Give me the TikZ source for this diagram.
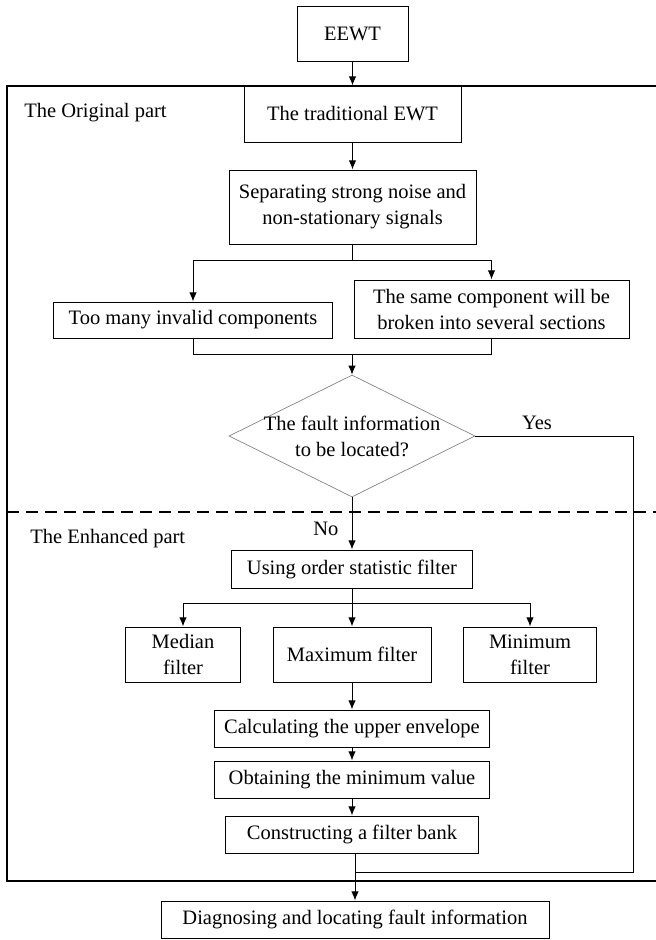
\documentclass[tikz,border=0pt]{standalone}
\usepackage{fontspec}
\setmainfont{Liberation Serif}
\usetikzlibrary{calc,positioning,shapes.geometric,arrows.meta}

\tikzset{
  box/.style={draw, inner sep=1pt, align=center, line width=0.6pt},
  decision/.style={draw=gray, diamond, inner sep=0pt, line width=0.4pt},
  arr/.style={-{Latex[length=5.5pt,width=4.5pt]}, line width=0.6pt},
  link/.style={line width=0.6pt},
  partlabel/.style={anchor=west, inner sep=0pt}
}

\begin{document}
\begin{tikzpicture}[x=0.6pt, y=-0.6pt, font=\fontsize{12.3}{15.6}\selectfont]
 \useasboundingbox (0,0) rectangle (656,940);

    % frame and dashed divider
    \draw[line width=1.2pt] (7,86) rectangle (670,881);
    \draw[line width=1.2pt, dash pattern=on 7.2pt off 4.2pt] (7,512) -- (670,512);
    \node[partlabel] (origlabel) at (24,113) {The Original part};
    \node[partlabel] (enhlabel) at (30,539) {The Enhanced part};

    % original part
    \node[box, minimum width=66.6pt, minimum height=33pt] (eewt) at (352.5,33.5) {EEWT};
    \node[box, minimum width=130.2pt, minimum height=33.6pt] (trad) at (352.5,114) {The traditional EWT};
    \node[box, minimum width=148.2pt, minimum height=44.4pt] (sep) at (352.5,207) {Separating strong noise and\\non-stationary signals};
    \node[box, minimum width=167.1pt, minimum height=21.6pt] (toomany) at (193,320) {Too many invalid components};
    \node[box, minimum width=165pt, minimum height=34.8pt] (same) at (491.5,309) {The same component will be\\broken into several sections};
    \node[decision, minimum width=147.6pt, minimum height=73.2pt] (fault) at (352,436) {};
    \node[align=center, inner sep=0pt] (faulttext) at (fault) {The fault information\\to be located?};

    % enhanced part
    \node[box, minimum width=144.6pt, minimum height=22.8pt] (order) at (352,569) {Using order statistic filter};
    \node[box, minimum width=69.3pt, minimum height=33pt] (median) at (183,654.5) {Median\\filter};
    \node[box, minimum width=94.8pt, minimum height=33pt] (maxf) at (352,654.5) {Maximum filter};
    \node[box, minimum width=79.8pt, minimum height=33pt] (minf) at (530,654.5) {Minimum\\filter};
    \node[box, minimum width=164.7pt, minimum height=22.2pt] (upper) at (352,728.5) {Calculating the upper envelope};
    \node[box, minimum width=164.7pt, minimum height=22.2pt] (minval) at (352,779.5) {Obtaining the minimum value};
    \node[box, minimum width=151.5pt, minimum height=22.2pt] (bank) at (352,834.5) {Constructing a filter bank};
    \node[box, minimum width=232.8pt, minimum height=22.2pt] (diag) at (355,919.5) {Diagnosing and locating fault information};

    \coordinate (split1) at (352.5,260);
    \coordinate (join1) at (352,354);
    \coordinate (split2) at (352,603);
    \coordinate (yescorner) at (633,872);
    \coordinate (merge) at (355,872);

    % connectors
    \draw[arr] (eewt) -- (trad);
    \draw[arr] (trad) -- (sep);
    \draw[link] (sep.south) -- (split1);
    \draw[arr] (split1) -| (toomany.north);
    \draw[arr] (split1) -| (same.north);
    \draw[link] (toomany.south) |- (join1);
    \draw[link] (same.south) |- (join1);
    \draw[arr] (join1) -- (fault.north);
    \draw[arr] (fault.south) -- (order.north) node[pos=0.6, left=4.5pt] {No};
    \draw[link] (fault.east) -| (yescorner) -- (merge);
    \node (yeslabel) at (537,423) {Yes};
    \draw[link] (order.south) -- (split2);
    \draw[arr] (split2) -| (median.north);
    \draw[arr] (split2) -| (minf.north);
    \draw[arr] (split2) -- (maxf.north);
    \draw[arr] (maxf) -- (upper);
    \draw[arr] (upper) -- (minval);
    \draw[arr] (minval) -- (bank);
    \draw[arr] (bank.south -| diag.north) -- (diag.north);

\end{tikzpicture}
\end{document}
